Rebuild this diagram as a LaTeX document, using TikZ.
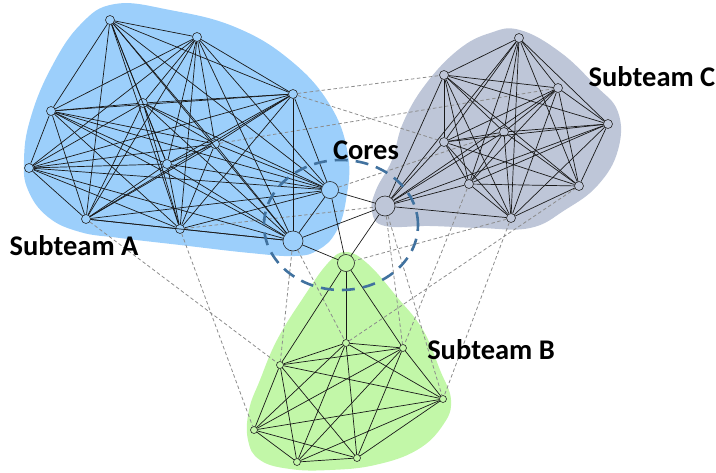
\documentclass[tikz,border=0pt]{standalone}
\usepackage{fontspec}
\setmainfont{Carlito}
\definecolor{blueA}{HTML}{9CCFFB}
\definecolor{grayC}{HTML}{BEC6D8}
\definecolor{greenB}{HTML}{C2F7A8}
\definecolor{ringc}{HTML}{41729F}
\begin{document}
\begin{tikzpicture}[x=1pt,y=-1pt,
  nd/.style={circle,draw=black!85,line width=0.6pt,inner sep=0pt,minimum size=9pt},
  ndb/.style={nd,minimum size=7pt},
  core/.style={nd,minimum size=18pt},
  ed/.style={draw=black!90,line width=0.7pt},
  xd/.style={draw=black!45,line width=0.8pt,dash pattern=on 3.5pt off 2.5pt},
  lbl/.style={font=\bfseries\fontsize{28.5}{31}\selectfont,inner sep=0pt}]
\useasboundingbox (0,0) rectangle (716,472);
% blobs
\fill[blueA] plot[smooth cycle,tension=0.7] coordinates {(115,4) (170,10) (235,27) (290,60) (330,105) (348,155) (346,200) (336,232) (318,250) (295,256) (250,253) (180,245) (120,238) (80,232) (48,217) (28,190) (24,160) (30,120) (50,70) (80,25)};
\fill[grayC] plot[smooth cycle,tension=0.7] coordinates {(520,30) (560,52) (595,85) (618,112) (618,150) (598,185) (565,210) (530,228) (480,228) (430,226) (385,226) (372,212) (376,190) (392,160) (403,123) (425,85) (458,50) (490,33)};
\fill[greenB] plot[smooth cycle,tension=0.7] coordinates {(346,252) (368,264) (397,297) (423,330) (440,370) (451,400) (443,425) (417,450) (375,465) (330,470) (290,469) (260,460) (248,440) (249,410) (260,380) (277,340) (303,298) (328,263)};
% team A nodes
\node[nd,fill=blueA] (a1) at (110,20) {};
\node[nd,fill=blueA] (a2) at (197,37) {};
\node[nd,fill=blueA] (a3) at (293,94) {};
\node[nd,fill=blueA] (a4) at (51,111) {};
\node[nd,fill=blueA] (a5) at (143,103) {};
\node[nd,fill=blueA] (a6) at (215,144) {};
\node[nd,fill=blueA] (a7) at (29,168) {};
\node[nd,fill=blueA] (a8) at (167,164) {};
\node[nd,fill=blueA] (a9) at (86,219) {};
\node[nd,fill=blueA] (a10) at (180,229) {};
\node[core,fill=blueA,minimum size=17pt] (a11) at (330,190) {};
\node[core,fill=blueA,minimum size=20pt] (a12) at (293,241) {};
% team C nodes
\node[nd,fill=grayC] (c1) at (519,38) {};
\node[nd,fill=grayC] (c2) at (444,75) {};
\node[nd,fill=grayC] (c3) at (558,88) {};
\node[nd,fill=grayC] (c4) at (608,124) {};
\node[nd,fill=grayC] (c5) at (504,132) {};
\node[nd,fill=grayC] (c6) at (444,142) {};
\node[nd,fill=grayC] (c7) at (469,184) {};
\node[nd,fill=grayC] (c8) at (579,186) {};
\node[nd,fill=grayC] (c9) at (511,218) {};
\node[core,fill=grayC,minimum size=20pt] (c10) at (385,206) {};
% team B nodes
\node[ndb,fill=greenB] (b1) at (346,343) {};
\node[ndb,fill=greenB] (b2) at (403,348) {};
\node[ndb,fill=greenB] (b3) at (280,365) {};
\node[ndb,fill=greenB] (b4) at (443,399) {};
\node[ndb,fill=greenB] (b5) at (254,430) {};
\node[ndb,fill=greenB] (b6) at (297,462) {};
\node[ndb,fill=greenB] (b7) at (357,458) {};
\node[core,fill=greenB,minimum size=17pt] (b8) at (346,263) {};
% dashed inter-team links
\foreach \u/\v in {a3/c2,a3/c6,a6/c3,a11/c5,a10/c10,a9/b3,a10/b5,a12/b3,a12/b1,c10/b2,c10/b4,c7/b2,c9/b4,c9/b8,b1/c8}
  \draw[xd] (\u) -- (\v);
% team A links
\foreach \i in {1,...,11}{
  \pgfmathtruncatemacro\k{\i+1}
  \foreach \j in {\k,...,12}{
    \pgfmathtruncatemacro\ok{(\i==1 && \j==7) ? 0 : 1}
    \ifnum\ok=1 \draw[ed] (a\i) -- (a\j);\fi
  }
}
% team C links
\foreach \i in {1,...,9}{
  \pgfmathtruncatemacro\k{\i+1}
  \foreach \j in {\k,...,10}{
    \pgfmathtruncatemacro\ok{(\i==8 && \j==10) ? 0 : 1}
    \ifnum\ok=1 \draw[ed] (c\i) -- (c\j);\fi
  }
}
% team B links
\foreach \i in {1,...,6}{
  \pgfmathtruncatemacro\k{\i+1}
  \foreach \j in {\k,...,7}{ \draw[ed] (b\i) -- (b\j); }
}
\foreach \v in {b1,b2,b3} \draw[ed] (b8) -- (\v);
% core links
\foreach \u/\v in {a11/c10,a12/c10,a11/b8,a12/b8,c10/b8}
  \draw[ed] (\u) -- (\v);
% cores ring
\draw[ringc,line width=2.6pt,dash pattern=on 13pt off 8pt] (341,225) ellipse (77pt and 65pt);
% labels
\node[lbl] (la) at (74,246) {Subteam A};
\node[lbl] (lc) at (652,77) {Subteam C};
\node[lbl] (lb) at (491,350) {Subteam B};
\node[lbl] (lk) at (366,150) {Cores};
\end{tikzpicture}
\end{document}
